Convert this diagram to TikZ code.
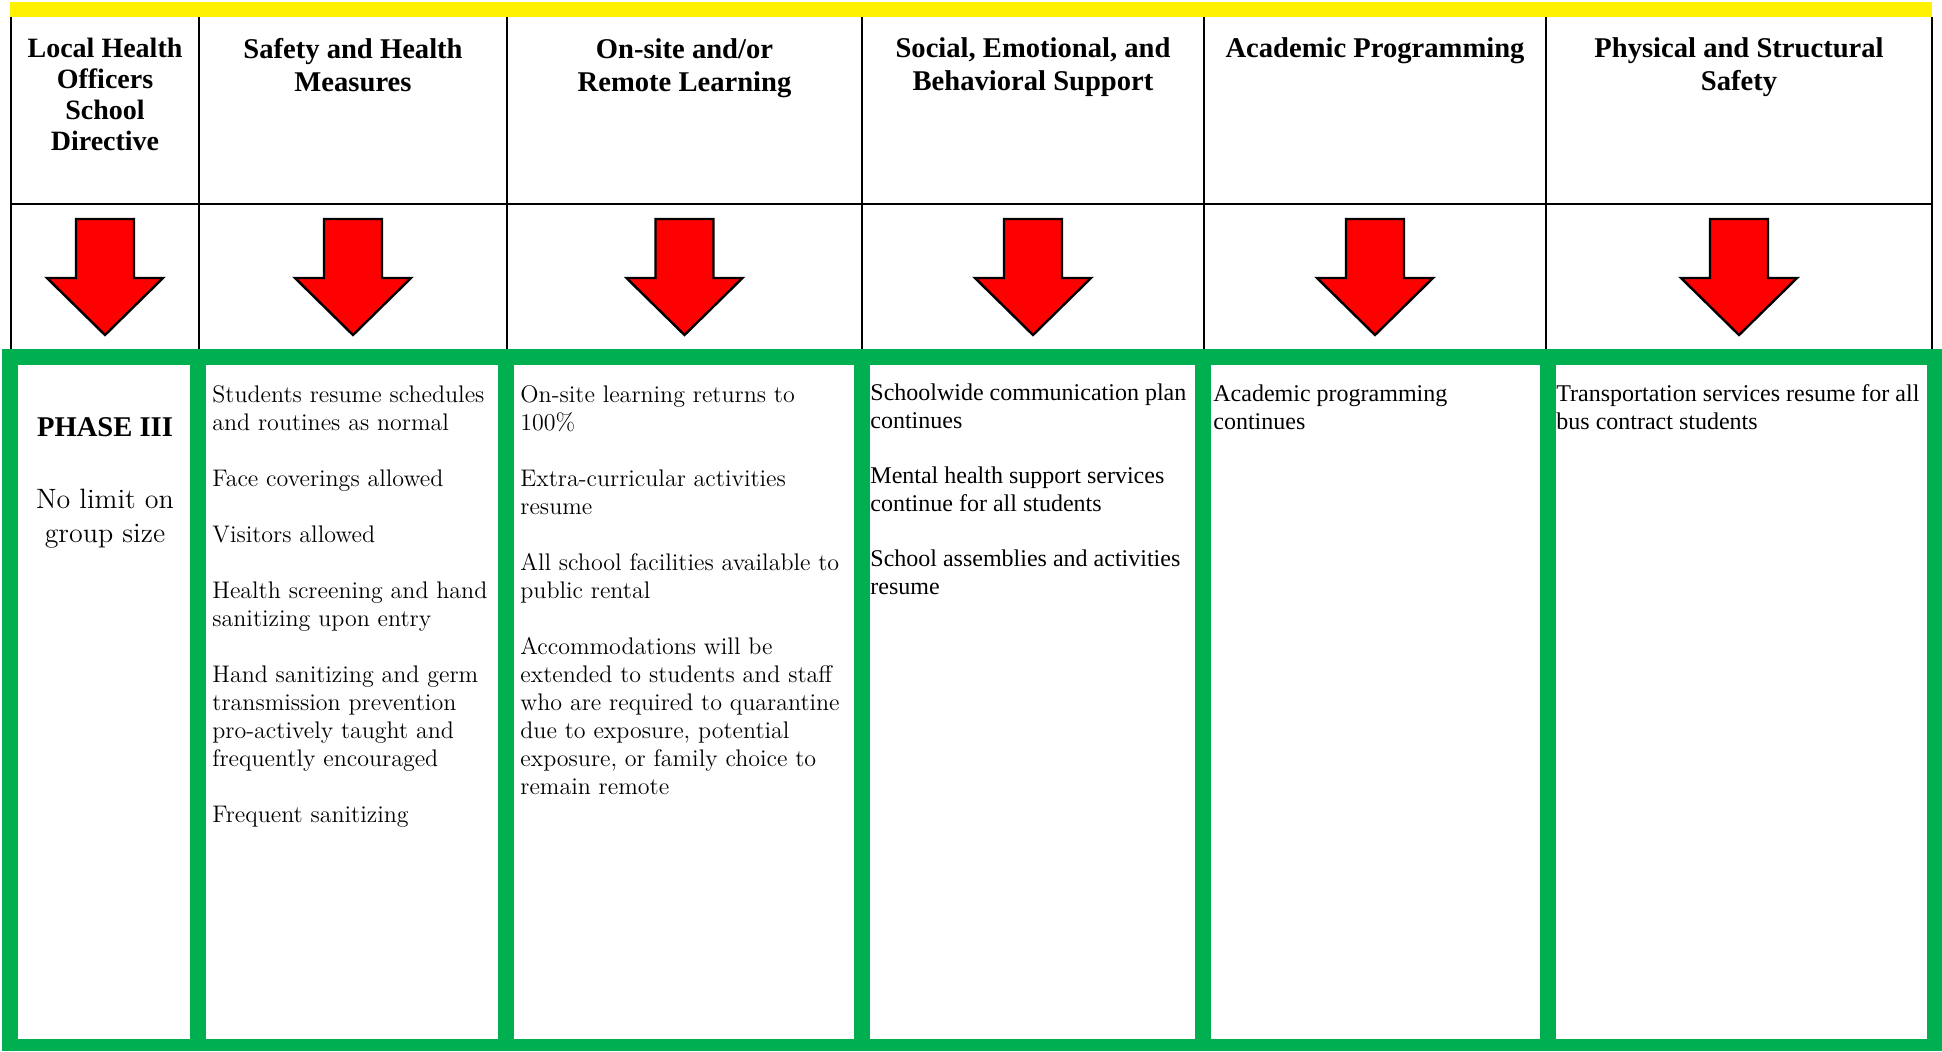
\documentclass[tikz,border=0pt]{standalone}
\usepackage{fontspec}
\newfontfamily\tnr{Liberation Serif}
\definecolor{grn}{RGB}{0,176,80}
\begin{document}
\begin{tikzpicture}[x=.5pt,y=-.5pt, dnarw/.pic={\draw[line width=1.2pt,fill=red] (-29,0)--(29,0)--(29,59)--(58,59)--(0,116)--(-58,59)--(-29,59)--cycle;},
 hd/.style={align=center,anchor=base,inner sep=0,font=\tnr\bfseries\fontsize{14.3}{16.5}\selectfont},
 bd/.style={align=left,anchor=base west,inner sep=0,font=\fontsize{12}{14}\selectfont},
 bdt/.style={align=left,anchor=base west,inner sep=0,font=\tnr\fontsize{12}{13.8}\selectfont}]
\useasboundingbox (0,0) rectangle (1942,1051);
\fill[yellow] (10,2) rectangle (1932,17);
\draw[line width=1pt] (11,204)--(1932,204) foreach \x in {11,199,507,862,1204,1546,1932} {(\x,17)--(\x,349)};
\fill[grn] (2,349) rectangle (1942,1051);
\foreach \a/\b in {18/190,206/498,514/854,870/1195,1211/1540,1556/1927} \fill[white] (\a,365) rectangle (\b,1039);
\foreach \x in {105,353,684.5,1033,1375,1739} \pic at (\x,219) {dnarw};
\path (105,150) node[hd,font=\tnr\bfseries\fontsize{14}{15.5}\selectfont] (h1) {Local Health\\Officers\\School\\Directive}
 (353,91) node[hd] (h2) {Safety and Health\\Measures}
 (684.5,91) node[hd] (h3) {On-site and/or\\Remote Learning}
 (1033,90) node[hd] (h4) {Social, Emotional, and\\Behavioral Support}
 (1375,57) node[hd] (h5) {Academic Programming}
 (1739,90) node[hd] (h6) {Physical and Structural\\Safety};
\path (105,436) node[hd] (ph) {PHASE III}
 (105,542) node[hd,font=\fontsize{14}{17}\selectfont] (grp) {No limit on\\group size};
\node[bd] (c2) at (212,822) {Students resume schedules\\and routines as normal\\[14pt]Face coverings allowed\\[14pt]Visitors allowed\\[14pt]Health screening and hand\\sanitizing upon entry\\[14pt]Hand sanitizing and germ\\transmission prevention\\pro-actively taught and\\frequently encouraged\\[14pt]Frequent sanitizing};
\node[bd] (c3) at (520,794) {On-site learning returns to\\100\%\\[14pt]Extra-curricular activities\\resume\\[14pt]All school facilities available to\\public rental\\[14pt]Accommodations will be\\extended to students and staff\\who are required to quarantine\\due to exposure, potential\\exposure, or family choice to\\remain remote};
\node[bdt] (c4) at (870,594) {Schoolwide communication plan\\continues\\[13.8pt]Mental health support services\\continue for all students\\[13.8pt]School assemblies and activities\\resume};
\node[bdt] (c5) at (1213,429) {Academic programming\\continues};
\node[bdt] (c6) at (1556,429) {Transportation services resume for all\\bus contract students};
\end{tikzpicture}
\end{document}
